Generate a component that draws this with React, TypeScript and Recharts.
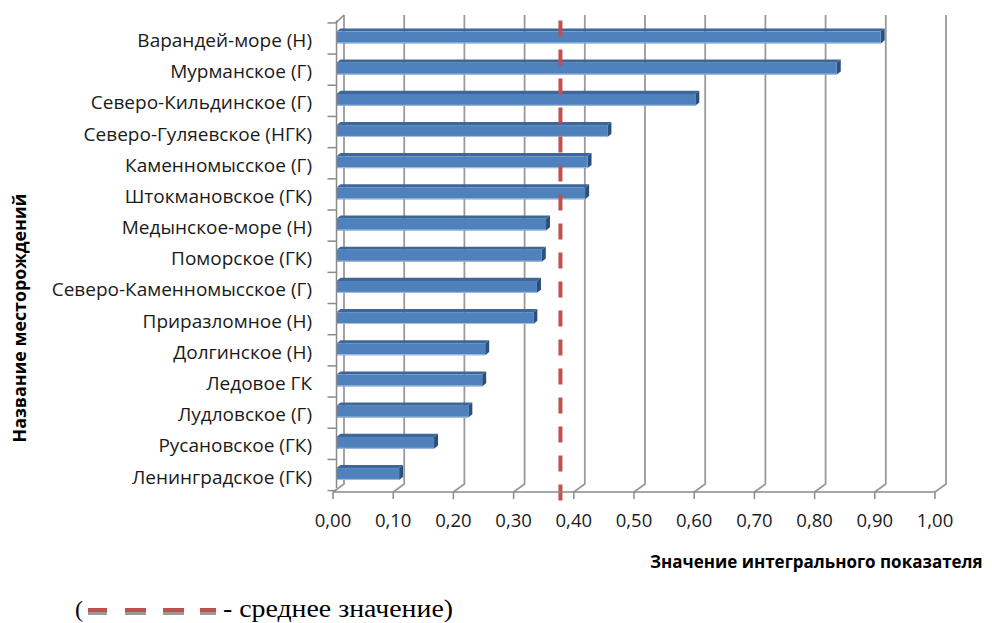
import React from 'react';
import { BarChart, Bar, XAxis, YAxis, CartesianGrid, ReferenceLine } from 'recharts';

// Offshore fields and their integral index values
const fields = [
  'Варандей-море (Н)',
  'Мурманское (Г)',
  'Северо-Кильдинское (Г)',
  'Северо-Гуляевское (НГК)',
  'Каменномысское (Г)',
  'Штокмановское (ГК)',
  'Медынское-море (Н)',
  'Поморское (ГК)',
  'Северо-Каменномысское (Г)',
  'Приразломное (Н)',
  'Долгинское (Н)',
  'Ледовое ГК',
  'Лудловское (Г)',
  'Русановское (ГК)',
  'Ленинградское (ГК)',
];
const indexValues = [
  0.904, 0.831, 0.596, 0.45, 0.417, 0.413, 0.348, 0.341, 0.333, 0.327, 0.247, 0.242, 0.219, 0.162,
  0.104,
];
const meanValue = 0.372;
const valueTicks = [0, 0.1, 0.2, 0.3, 0.4, 0.5, 0.6, 0.7, 0.8, 0.9, 1.0];

const xTitle = 'Значение интегрального показателя';
const yTitle = 'Название месторождений';
const legendText = '- среднее значение)';

const data = fields.map((name, i) => ({ name, value: indexValues[i] }));

// layout
const W = 992;
const H = 623;
const PLOT_LEFT = 336.5;
const PLOT_RIGHT = 938.5;
const PLOT_TOP = 20.4;
const PLOT_BOTTOM = 488.1;
const X_AXIS_H = 30;
const BAND = (PLOT_BOTTOM - PLOT_TOP) / fields.length;

// 3D depth offsets
const BAR_DX = 4;
const BAR_DY = 3.2;
const BACK_DX = 7.5;
const BACK_DY = 5.4;
const FRONT_DX = 3.5;
const FRONT_DY = 4;

const FONT = '"Open Sans", "Noto Sans", sans-serif';
const SERIF = '"Liberation Serif", "Times New Roman", serif';
const GRID = '#9a9a9a';
const AXIS = '#8a8a8a';

// legend swatches: [left, width]
const legendSwatches: [number, number][] = [
  [88, 19],
  [125, 21],
  [163, 21],
  [200, 16],
];

const fmt = (v: number) => v.toFixed(2).replace('.', ',');

function Bar3D(props: any) {
  const { x, y, width, height } = props;
  if (width == null || width <= 0) return null;
  const fy = y + BAR_DY;
  const fh = height - BAR_DY;
  return (
    <g>
      <polygon
        points={`${x},${fy} ${x + BAR_DX},${y} ${x + width + BAR_DX},${y} ${x + width},${fy}`}
        fill="#3d6699"
      />
      <polygon
        points={`${x + width},${fy} ${x + width + BAR_DX},${y} ${x + width + BAR_DX},${y + fh} ${x + width},${y + height}`}
        fill="#2c4f7e"
      />
      <rect x={x} y={fy} width={width} height={fh} fill="#4f81bd" />
      <line x1={x} x2={x + width} y1={y + height - 0.5} y2={y + height - 0.5} stroke="#a4c0e4" strokeWidth={1} />
    </g>
  );
}

function CategoryTick(props: any) {
  const { x, y, payload, index } = props;
  const markX1 = x - 9;
  const upper = y - BAND / 2 + 2.5;
  const lower = y + BAND / 2 + 2.5;
  return (
    <g>
      <text x={x - 24.5} y={y + 11} textAnchor="end" fontSize={19} fontFamily={FONT} fill="#1a1a1a">
        {payload.value}
      </text>
      <line x1={markX1} x2={x} y1={upper} y2={upper} stroke={AXIS} strokeWidth={1.5} />
      {index === fields.length - 1 && (
        <line x1={markX1} x2={x} y1={lower} y2={lower} stroke={AXIS} strokeWidth={1.5} />
      )}
      {index === 0 && (
        <line
          x1={x}
          y1={PLOT_TOP + 2}
          x2={x + BACK_DX}
          y2={PLOT_TOP - BACK_DY}
          stroke={AXIS}
          strokeWidth={1.5}
        />
      )}
    </g>
  );
}

function ValueTick(props: any) {
  const { x, y, payload } = props;
  const fx = x - FRONT_DX;
  return (
    <g>
      <line x1={fx} x2={fx} y1={y + FRONT_DY} y2={y + 11} stroke={AXIS} strokeWidth={1.5} />
      <text x={fx} y={y + 39} textAnchor="middle" fontSize={18.5} fontFamily={FONT} fill="#1a1a1a">
        {fmt(payload.value)}
      </text>
    </g>
  );
}

function GridLine3D(props: any) {
  const { x1, y1, y2, index } = props;
  const top = Math.min(y1, y2);
  const bottom = Math.max(y1, y2);
  const d = `M${x1 + BACK_DX},${top - BACK_DY} L${x1 + BACK_DX},${bottom - FRONT_DY} L${x1 - FRONT_DX},${bottom + FRONT_DY}`;
  return <path key={`g-${index ?? x1}`} d={d} fill="none" stroke={GRID} strokeWidth={1.8} />;
}

function MeanLine(props: any) {
  const { x1, y1, y2 } = props;
  const top = Math.min(y1, y2);
  const bottom = Math.max(y1, y2);
  return (
    <line
      x1={x1}
      x2={x1}
      y1={top}
      y2={bottom + 12.3}
      stroke="#c0504d"
      strokeWidth={4}
      strokeDasharray="16 13"
    />
  );
}

export default function App() {
  return (
    <div style={{ position: 'absolute', left: 0, top: 0, width: W, height: H, background: '#fff', overflow: 'hidden' }}>
      <BarChart
        width={W}
        height={H}
        data={data}
        layout="vertical"
        barSize={15}
        margin={{ top: PLOT_TOP, right: W - PLOT_RIGHT, bottom: H - PLOT_BOTTOM - X_AXIS_H, left: 0 }}
      >
        <CartesianGrid horizontal={false} vertical={GridLine3D} />
        <XAxis
          type="number"
          domain={[0, 1]}
          ticks={valueTicks}
          height={X_AXIS_H}
          tickSize={0}
          tickMargin={0}
          tickLine={false}
          tick={<ValueTick />}
          axisLine={{ stroke: AXIS, strokeWidth: 1.5, transform: `translate(${-FRONT_DX},${FRONT_DY})` }}
          interval={0}
        />
        <YAxis
          type="category"
          dataKey="name"
          width={PLOT_LEFT}
          tickSize={0}
          tickMargin={0}
          tickLine={false}
          tick={<CategoryTick />}
          axisLine={{ stroke: AXIS, strokeWidth: 1.5 }}
          interval={0}
        />
        <Bar dataKey="value" shape={<Bar3D />} isAnimationActive={false} />
        <ReferenceLine x={meanValue} shape={MeanLine} />
      </BarChart>

      <svg width={W} height={H} style={{ position: 'absolute', left: 0, top: 0, pointerEvents: 'none' }}>
        <text x={650} y={568} fontSize={17} fontWeight="bold" fontFamily={FONT} fill="#000">
          {xTitle}
        </text>
        <text
          x={26}
          y={318}
          transform="rotate(-90 26 318)"
          textAnchor="middle"
          fontSize={17.8}
          fontWeight="bold"
          fontFamily={FONT}
          fill="#000"
        >
          {yTitle}
        </text>

        <text x={75} y={617} fontSize={24} fontFamily={SERIF} fill="#000">
          (
        </text>
        {legendSwatches.map(([left, w]) => (
          <g key={left}>
            <rect x={left} y={608} width={w} height={4} fill="#c0504d" />
            <rect x={left} y={612} width={w} height={3} fill="#9a9a9a" />
          </g>
        ))}
        <text
          x={223}
          y={617}
          fontSize={25}
          fontFamily={SERIF}
          fill="#000"
          textLength={230}
          lengthAdjust="spacingAndGlyphs"
        >
          {legendText}
        </text>
      </svg>
    </div>
  );
}
